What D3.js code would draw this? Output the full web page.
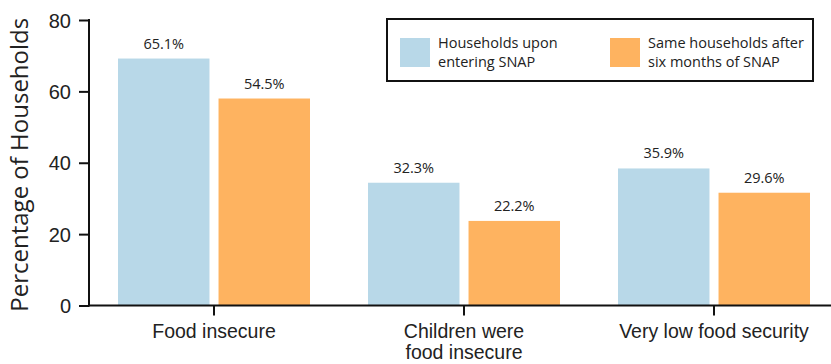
<!DOCTYPE html>
<html>
<head>
<meta charset="utf-8">
<script src="https://cdn.jsdelivr.net/npm/d3@7"></script>
<style>
  body { margin: 0; background: #fff; }
  svg { display: block; font-family: "Open Sans", sans-serif; }
  .axis path, .axis line { stroke: #111; stroke-width: 2px; }
  .axis text { fill: #222; }
</style>
</head>
<body>
<svg id="chart" width="831" height="364"></svg>
<script>
// categories and series
var categories = ["Food insecure", "Children were\nfood insecure", "Very low food security"];
var seriesNames = ["Households upon\nentering SNAP", "Same households after\nsix months of SNAP"];
var seriesColors = ["#b8d8e8", "#feb360"];

// bar heights as drawn
var entering = [69.2, 34.4, 38.4];
var sixMonths = [58.0, 23.7, 31.6];
// printed labels over the bars
var enteringLabels = ["65.1%", "32.3%", "35.9%"];
var sixMonthsLabels = ["54.5%", "22.2%", "29.6%"];

var yTicks = [0, 20, 40, 60, 80];

var svg = d3.select("#chart");
var width = 831, height = 364;
var margin = {left: 89, right: -8, top: 20, bottom: 58.5};

var rows = categories.map(function(c, i) {
  return {cat: c, values: [
    {s: 0, v: entering[i], label: enteringLabels[i]},
    {s: 1, v: sixMonths[i], label: sixMonthsLabels[i]}
  ]};
});

var x0 = d3.scaleBand()
  .domain(categories)
  .range([margin.left, width - margin.right])
  .paddingInner(0.232)
  .paddingOuter(0.116);

var x1 = d3.scaleBand()
  .domain([0, 1])
  .range([0, x0.bandwidth()])
  .paddingInner(0.09);

var y = d3.scaleLinear()
  .domain([0, 80])
  .range([height - margin.bottom, margin.top]);

// bars
var groups = svg.append("g").selectAll("g")
  .data(rows)
 .enter().append("g")
  .attr("transform", function(d) { return "translate(" + x0(d.cat) + ",0)"; });

groups.selectAll("rect")
  .data(function(d) { return d.values; })
 .enter().append("rect")
  .attr("x", function(d) { return x1(d.s); })
  .attr("width", x1.bandwidth())
  .attr("y", function(d) { return y(d.v); })
  .attr("height", function(d) { return y(0) - y(d.v); })
  .attr("fill", function(d) { return seriesColors[d.s]; });

groups.selectAll("text")
  .data(function(d) { return d.values; })
 .enter().append("text")
  .attr("x", function(d) { return x1(d.s) + x1.bandwidth() / 2; })
  .attr("y", function(d) { return y(d.v) - 10; })
  .attr("text-anchor", "middle")
  .attr("font-size", 14.5)
  .attr("fill", "#222")
  .text(function(d) { return d.label; });

// y axis
var yAxis = svg.append("g")
  .attr("class", "axis")
  .attr("transform", "translate(" + margin.left + ",0)")
  .call(d3.axisLeft(y).tickValues(yTicks).tickSize(10).tickSizeOuter(0));
yAxis.selectAll("text").attr("font-size", 20).attr("x", -18).attr("dy", "0.35em");
yAxis.select(".domain").attr("d", "M0," + (y(0) + 1) + "V" + (y(80) - 1));

// x axis
var xAxis = svg.append("g")
  .attr("class", "axis")
  .attr("transform", "translate(0," + y(0) + ")")
  .call(d3.axisBottom(x0).tickSize(10).tickSizeOuter(0));
xAxis.select(".domain").attr("d", "M" + (margin.left - 1) + ",0H" + width);
xAxis.selectAll(".tick text").remove();
xAxis.selectAll(".tick").append("text")
  .attr("text-anchor", "middle")
  .attr("font-size", 19.5)
  .attr("fill", "#222")
  .selectAll("tspan")
  .data(function(d) { return d.split("\n"); })
 .enter().append("tspan")
  .attr("x", 0)
  .attr("y", function(d, i) { return 32 + i * 21; })
  .text(function(d) { return d; });

// y label
svg.append("text")
  .attr("transform", "translate(28," + ((y(0) + y(80)) / 2 + 2) + ") rotate(-90)")
  .attr("text-anchor", "middle")
  .attr("font-size", 24)
  .attr("fill", "#222")
  .text("Percentage of Households");

// legend
var legend = svg.append("g");
legend.append("rect")
  .attr("x", 387).attr("y", 19)
  .attr("width", 426).attr("height", 62)
  .attr("fill", "#fff").attr("stroke", "#111").attr("stroke-width", 2);

var legendX = [400, 610];
var items = legend.selectAll(".item")
  .data(seriesNames)
 .enter().append("g")
  .attr("transform", function(d, i) { return "translate(" + legendX[i] + ",38)"; });
items.append("rect")
  .attr("width", 30).attr("height", 29)
  .attr("fill", function(d, i) { return seriesColors[i]; });
items.append("text")
  .attr("font-size", 14.5)
  .attr("fill", "#222")
  .selectAll("tspan")
  .data(function(d) { return d.split("\n"); })
 .enter().append("tspan")
  .attr("x", 38)
  .attr("y", function(d, i) { return 10 + i * 19; })
  .text(function(d) { return d; });
</script>
</body>
</html>
